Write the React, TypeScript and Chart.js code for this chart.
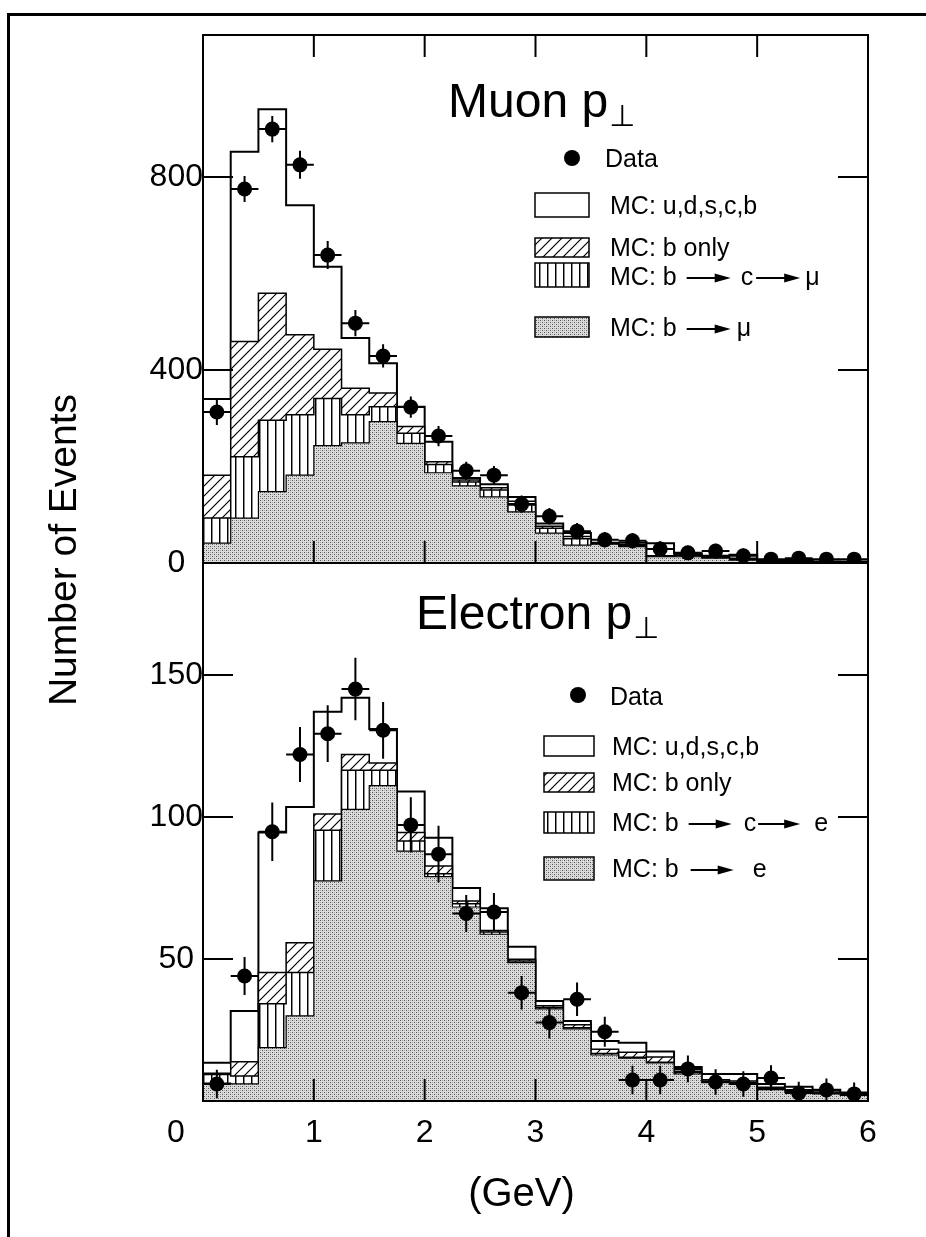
import React, { useEffect, useRef } from 'react';
import { Chart, registerables } from 'chart.js';

Chart.register(...registerables);

// ---------- data ----------
const binEdges = [0, 0.25, 0.5, 0.75, 1, 1.25, 1.5, 1.75, 2, 2.25, 2.5, 2.75, 3, 3.25, 3.5, 3.75, 4, 4.25, 4.5, 4.75, 5, 5.25, 5.5, 5.75, 6];
const binCenters = [0.125, 0.375, 0.625, 0.875, 1.125, 1.375, 1.625, 1.875, 2.125, 2.375, 2.625, 2.875, 3.125, 3.375, 3.625, 3.875, 4.125, 4.375, 4.625, 4.875, 5.125, 5.375, 5.625, 5.875];
const binHalfWidth = 0.125;

const xTickValues = [0, 1, 2, 3, 4, 5, 6];
const muonYTicks = [0, 400, 800];
const electronYTicks = [50, 100, 150];
const muonYMax = 1094;
const electronYMax = 189.4;

// Muon pT
const muonData = [313, 775, 899, 825, 638, 497, 429, 323, 263, 191, 182, 122, 97, 66, 48, 46, 29, 21, 25, 15, 8, 10, 8, 8];
const muonErr = [27, 27, 27, 29, 29, 27, 24, 22, 21, 19, 19, 18, 17, 17, 16, 16, 16, 15, 15, 15, 15, 15, 15, 15];
const muonAll = [340, 852, 940, 741, 614, 466, 414, 324, 251, 176, 163, 137, 82, 62, 42, 42, 41, 20, 15, 17, 6, 6, 3, 3];
const muonBOnly = [182, 459, 559, 473, 443, 362, 352, 283, 210, 172, 156, 128, 76, 55, 41, 38, 15, 17, 13, 10, 5, 5, 3, 2];
const muonBCMu = [93, 220, 296, 307, 341, 307, 324, 269, 204, 168, 151, 120, 72, 50, 40, 36, 14, 15, 12, 8, 4, 4, 2, 2];
const muonBMu = [41, 93, 148, 182, 243, 249, 293, 248, 187, 160, 137, 106, 62, 37, 39, 34, 13, 13, 10, 6, 3, 3, 2, 2];

// Electron pT
const electronData = [6, 44, 94.8, 122, 129.3, 145, 130.5, 97.2, 86.9, 66, 66.5, 38.1, 27.6, 35.8, 24.4, 7.4, 7.4, 11.3, 6.7, 6, 8.1, 2.8, 3.9, 2.5];
const electronErr = [5, 6.7, 10.3, 9.7, 10, 11, 10, 9.7, 10, 6.5, 6.7, 5.9, 5.6, 5.9, 5.3, 5, 5, 4.7, 4.5, 4.5, 4.5, 4, 4, 4];
const electronAll = [13.5, 31.7, 94.5, 103.5, 137, 142, 131, 109, 92.7, 75, 67.9, 54.3, 35.2, 28.2, 21.1, 20.5, 17.4, 12, 9.5, 9.5, 6, 5, 4, 3];
const electronBOnly = [9.8, 13.8, 45.2, 55.7, 101, 122, 119, 94.5, 82.7, 70.4, 60, 49.9, 33.5, 26.8, 18.2, 17.2, 15.5, 10.5, 7.5, 7, 4.8, 4, 3.2, 2.5];
const electronBCE = [9.3, 8.8, 34.2, 45.2, 95.3, 116.4, 116.4, 91.5, 80, 69.4, 59.5, 49.3, 32.9, 25.8, 16.7, 15.4, 13.6, 10, 7, 6.5, 4.3, 3.6, 2.8, 2.2];
const electronBE = [6.3, 6, 18.8, 30, 77.5, 102.7, 111, 88, 79, 68.3, 58.7, 48.7, 32.4, 25.4, 16.2, 15.1, 13.4, 9.5, 6.5, 6, 4, 3.3, 2.5, 2];

// ---------- styling ----------
const FONT = '"Liberation Sans", Arial, Helvetica, sans-serif';
const SYM_FONT = '"DejaVu Sans", "Liberation Sans", sans-serif';

type Pats = { hatch: CanvasPattern | string; stripes: CanvasPattern | string; stipple: CanvasPattern | string };

function makePatterns(): Pats {
  const hc = document.createElement('canvas');
  hc.width = 10; hc.height = 10;
  const h = hc.getContext('2d')!;
  h.fillStyle = '#fff'; h.fillRect(0, 0, 10, 10);
  h.strokeStyle = '#000'; h.lineWidth = 1.2;
  h.beginPath();
  h.moveTo(-2, 12); h.lineTo(12, -2);
  h.moveTo(-2, 2); h.lineTo(2, -2);
  h.moveTo(8, 12); h.lineTo(12, 8);
  h.stroke();

  const sc = document.createElement('canvas');
  sc.width = 8; sc.height = 8;
  const s = sc.getContext('2d')!;
  s.fillStyle = '#fff'; s.fillRect(0, 0, 8, 8);
  s.fillStyle = '#000'; s.fillRect(3, 0, 1, 8);
  s.fillStyle = '#888'; s.fillRect(4, 0, 1, 8);

  const pc = document.createElement('canvas');
  pc.width = 4; pc.height = 4;
  const p = pc.getContext('2d')!;
  p.fillStyle = '#dcdcdc'; p.fillRect(0, 0, 4, 4);
  p.fillStyle = '#555'; p.fillRect(0, 0, 1, 1); p.fillRect(2, 2, 1, 1);
  p.fillStyle = '#a8a8a8'; p.fillRect(2, 0, 1, 1); p.fillRect(0, 2, 1, 1);

  const ctx = document.createElement('canvas').getContext('2d')!;
  return {
    hatch: ctx.createPattern(hc, 'repeat') || '#999',
    stripes: ctx.createPattern(sc, 'repeat') || '#777',
    stipple: ctx.createPattern(pc, 'repeat') || '#ccc',
  };
}

function histPoints(values: number[]) {
  const pts: { x: number; y: number }[] = [{ x: binEdges[0], y: 0 }];
  values.forEach((v, i) => {
    pts.push({ x: binEdges[i], y: v });
    pts.push({ x: binEdges[i + 1], y: v });
  });
  pts.push({ x: binEdges[values.length], y: 0 });
  return pts;
}

function drawArrow(ctx: CanvasRenderingContext2D, x: number, y: number, len: number) {
  ctx.save();
  ctx.strokeStyle = '#000'; ctx.fillStyle = '#000'; ctx.lineWidth = 1.8;
  ctx.beginPath(); ctx.moveTo(x, y); ctx.lineTo(x + len - 10, y); ctx.stroke();
  ctx.beginPath();
  ctx.moveTo(x + len - 16, y - 4.5); ctx.lineTo(x + len, y); ctx.lineTo(x + len - 16, y + 4.5);
  ctx.closePath(); ctx.fill();
  ctx.restore();
}

type Part = string | { arrow: number; pre: number; post: number };

function drawParts(ctx: CanvasRenderingContext2D, parts: Part[], x: number, cy: number) {
  ctx.font = `25px ${FONT}`;
  ctx.textBaseline = 'alphabetic'; ctx.textAlign = 'left'; ctx.fillStyle = '#000';
  const base = cy + 9;
  let cx = x;
  for (const p of parts) {
    if (typeof p === 'string') {
      ctx.fillText(p, cx, base);
      cx += ctx.measureText(p).width;
    } else {
      cx += p.pre;
      drawArrow(ctx, cx, base - 7, p.arrow);
      cx += p.arrow + p.post;
    }
  }
}

type Row = { fill: 'white' | 'hatch' | 'stripes' | 'stipple'; rect: number[]; tx: number; cy: number; parts: Part[] };
type LegendSpec = { dot: number[]; dataX: number; dataCy: number; rows: Row[] };

const muonLegend: LegendSpec = {
  dot: [572, 158], dataX: 605, dataCy: 158,
  rows: [
    { fill: 'white', rect: [535, 193, 54, 24], tx: 610, cy: 205, parts: ['MC: u,d,s,c,b'] },
    { fill: 'hatch', rect: [535, 238, 54, 19], tx: 610, cy: 247, parts: ['MC: b only'] },
    { fill: 'stripes', rect: [535, 263, 54, 24], tx: 610, cy: 276, parts: ['MC: b', { arrow: 44, pre: 10, post: 10 }, 'c', { arrow: 44, pre: 3, post: 5 }, 'μ'] },
    { fill: 'stipple', rect: [535, 317, 54, 20], tx: 610, cy: 327, parts: ['MC: b', { arrow: 44, pre: 10, post: 6 }, 'μ'] },
  ],
};

const electronLegend: LegendSpec = {
  dot: [578, 695], dataX: 610, dataCy: 696,
  rows: [
    { fill: 'white', rect: [544, 736, 50, 20], tx: 612, cy: 746, parts: ['MC: u,d,s,c,b'] },
    { fill: 'hatch', rect: [544, 773, 50, 19], tx: 612, cy: 782, parts: ['MC: b only'] },
    { fill: 'stripes', rect: [544, 812, 50, 21], tx: 612, cy: 822, parts: ['MC: b', { arrow: 43, pre: 10, post: 12 }, 'c', { arrow: 42, pre: 2, post: 14 }, 'e'] },
    { fill: 'stipple', rect: [544, 857, 50, 23], tx: 612, cy: 868, parts: ['MC: b', { arrow: 43, pre: 12, post: 19 }, 'e'] },
  ],
};

function drawLegend(ctx: CanvasRenderingContext2D, spec: LegendSpec, pats: Pats) {
  ctx.save();
  ctx.fillStyle = '#000';
  ctx.beginPath(); ctx.arc(spec.dot[0], spec.dot[1], 8, 0, Math.PI * 2); ctx.fill();
  drawParts(ctx, ['Data'], spec.dataX, spec.dataCy);
  for (const r of spec.rows) {
    const [x, y, w, h] = r.rect;
    ctx.fillStyle = r.fill === 'white' ? '#fff' : (pats as any)[r.fill];
    ctx.fillRect(x, y, w, h);
    ctx.strokeStyle = '#000'; ctx.lineWidth = 1.5;
    ctx.strokeRect(x, y, w, h);
    drawParts(ctx, r.parts, r.tx, r.cy);
  }
  ctx.restore();
}

function drawTitle(ctx: CanvasRenderingContext2D, main: string, x: number, base: number) {
  ctx.save();
  ctx.fillStyle = '#000'; ctx.textAlign = 'left'; ctx.textBaseline = 'alphabetic';
  ctx.font = `48px ${FONT}`;
  ctx.fillText(main, x, base);
  const w = ctx.measureText(main).width;
  ctx.font = `30px ${SYM_FONT}`;
  ctx.fillText('⊥', x + w + 1, base + 9);
  ctx.restore();
}

function drawFrame(chart: any, yTicks: number[], topTicks: boolean) {
  const ctx: CanvasRenderingContext2D = chart.ctx;
  const a = chart.chartArea;
  const xs = chart.scales.x;
  const ys = chart.scales.y;
  ctx.save();
  ctx.strokeStyle = '#000';
  ctx.lineWidth = 2;
  ctx.strokeRect(a.left, a.top, a.right - a.left, a.bottom - a.top);
  ctx.beginPath();
  for (const v of yTicks) {
    if (v <= ys.min) continue;
    const py = ys.getPixelForValue(v);
    ctx.moveTo(a.left, py); ctx.lineTo(a.left + 30, py);
    ctx.moveTo(a.right, py); ctx.lineTo(a.right - 30, py);
  }
  for (const v of xTickValues) {
    if (v <= xs.min || v >= xs.max) continue;
    const px = xs.getPixelForValue(v);
    ctx.moveTo(px, a.bottom); ctx.lineTo(px, a.bottom - 22);
    if (topTicks) { ctx.moveTo(px, a.top); ctx.lineTo(px, a.top + 22); }
  }
  ctx.stroke();
  ctx.restore();
}

function errorBarPlugin(values: number[], errs: number[]) {
  return {
    id: 'errorBars',
    afterDatasetsDraw(chart: any) {
      const ctx: CanvasRenderingContext2D = chart.ctx;
      const xs = chart.scales.x;
      const ys = chart.scales.y;
      ctx.save();
      ctx.strokeStyle = '#000';
      ctx.lineWidth = 2;
      ctx.beginPath();
      values.forEach((v, i) => {
        const c = binCenters[i];
        const px = xs.getPixelForValue(c);
        const py = ys.getPixelForValue(v);
        ctx.moveTo(xs.getPixelForValue(c - binHalfWidth), py);
        ctx.lineTo(xs.getPixelForValue(c + binHalfWidth), py);
        ctx.moveTo(px, ys.getPixelForValue(v + errs[i]));
        ctx.lineTo(px, ys.getPixelForValue(Math.max(ys.min, v - errs[i])));
      });
      ctx.stroke();
      ctx.restore();
    },
  };
}

function buildConfig(isMuon: boolean, pats: Pats): any {
  const d = isMuon ? muonData : electronData;
  const e = isMuon ? muonErr : electronErr;
  const all = isMuon ? muonAll : electronAll;
  const bOnly = isMuon ? muonBOnly : electronBOnly;
  const bc = isMuon ? muonBCMu : electronBCE;
  const bl = isMuon ? muonBMu : electronBE;
  const lep = isMuon ? 'μ' : 'e';
  const yTicks = isMuon ? muonYTicks : electronYTicks;
  const yMax = isMuon ? muonYMax : electronYMax;

  const histDs = (label: string, vals: number[], bg: any, bw: number, order: number) => ({
    type: 'line', label, data: histPoints(vals), fill: 'origin', backgroundColor: bg,
    borderColor: '#000', borderWidth: bw, pointRadius: 0, pointHitRadius: 0, tension: 0,
    borderJoinStyle: 'miter', order,
  });

  const decor = {
    id: 'decor',
    afterDraw(chart: any) {
      const ctx: CanvasRenderingContext2D = chart.ctx;
      drawFrame(chart, yTicks, isMuon);
      if (isMuon) {
        drawTitle(ctx, 'Muon p', 448, 117);
        drawLegend(ctx, muonLegend, pats);
      } else {
        drawTitle(ctx, 'Electron p', 416, 629);
        drawLegend(ctx, electronLegend, pats);
        const a = chart.chartArea;
        const xs = chart.scales.x;
        ctx.save();
        ctx.fillStyle = '#000';
        ctx.textAlign = 'center'; ctx.textBaseline = 'middle';
        ctx.font = `32px ${FONT}`;
        ctx.fillText('0', xs.getPixelForValue(0) - 27, xs.top + 13 + 19.2);
        ctx.font = `40px ${FONT}`;
        ctx.fillText('(GeV)', (a.left + a.right) / 2 - 14, 1195);
        ctx.translate(65, 550);
        ctx.rotate(-Math.PI / 2);
        ctx.font = `39px ${FONT}`;
        ctx.fillText('Number of Events', 0, 0);
        ctx.restore();
      }
    },
  };

  const xScale: any = {
    type: 'linear', min: 0, max: 6, display: !isMuon,
    grid: { display: false, drawTicks: false }, border: { display: false },
    afterBuildTicks: (s: any) => { s.ticks = xTickValues.map((v) => ({ value: v })); },
    ticks: {
      font: { size: 32, family: FONT }, color: '#000', padding: 13, maxRotation: 0, autoSkip: false,
      callback: (v: any) => (v === 0 ? '' : String(v)),
    },
  };
  if (!isMuon) xScale.afterFit = (s: any) => { s.height = 60; };

  return {
    type: 'line',
    data: {
      datasets: [
        {
          type: 'line', label: 'Data', data: d.map((v, i) => ({ x: binCenters[i], y: v })),
          showLine: false, pointRadius: 7.5, pointBackgroundColor: '#000', pointBorderColor: '#000',
          pointBorderWidth: 0, order: 0,
        },
        histDs(`MC: b → ${lep}`, bl, pats.stipple, 1.2, 1),
        histDs(`MC: b → c → ${lep}`, bc, pats.stripes, 1.5, 2),
        histDs('MC: b only', bOnly, pats.hatch, 1.5, 3),
        histDs('MC: u,d,s,c,b', all, '#fff', 2, 4),
      ],
    },
    options: {
      responsive: false,
      animation: false,
      events: [],
      layout: {
        padding: isMuon
          ? { left: 0, top: 35, right: 58, bottom: 674 }
          : { left: 0, top: 563, right: 58, bottom: 76 },
      },
      plugins: { legend: { display: false }, tooltip: { enabled: false }, title: { display: false } },
      scales: {
        x: xScale,
        y: {
          type: 'linear', min: 0, max: yMax,
          grid: { display: false, drawTicks: false }, border: { display: false },
          afterBuildTicks: (s: any) => { s.ticks = yTicks.map((v) => ({ value: v })); },
          afterFit: (s: any) => { s.width = 203; },
          ticks: { font: { size: 32, family: FONT }, color: '#000', padding: 0, crossAlign: 'center', autoSkip: false },
        },
      },
    },
    plugins: [errorBarPlugin(d, e), decor],
  };
}

export default function App() {
  const topRef = useRef<HTMLCanvasElement>(null);
  const botRef = useRef<HTMLCanvasElement>(null);

  useEffect(() => {
    Chart.defaults.font.family = FONT;
    const pats = makePatterns();
    const c2 = new Chart(botRef.current!, buildConfig(false, pats));
    const c1 = new Chart(topRef.current!, buildConfig(true, pats));
    return () => { c1.destroy(); c2.destroy(); };
  }, []);

  return (
    <div style={{ position: 'absolute', left: 0, top: 0, width: 926, height: 1237, background: '#fff', overflow: 'hidden' }}>
      <div style={{ position: 'absolute', left: 7, top: 13, width: 919, height: 3, background: '#000' }} />
      <div style={{ position: 'absolute', left: 7, top: 13, width: 3, height: 1224, background: '#000' }} />
      <canvas ref={botRef} width={926} height={1237} style={{ position: 'absolute', left: 0, top: 0 }} />
      <canvas ref={topRef} width={926} height={1237} style={{ position: 'absolute', left: 0, top: 0 }} />
    </div>
  );
}
